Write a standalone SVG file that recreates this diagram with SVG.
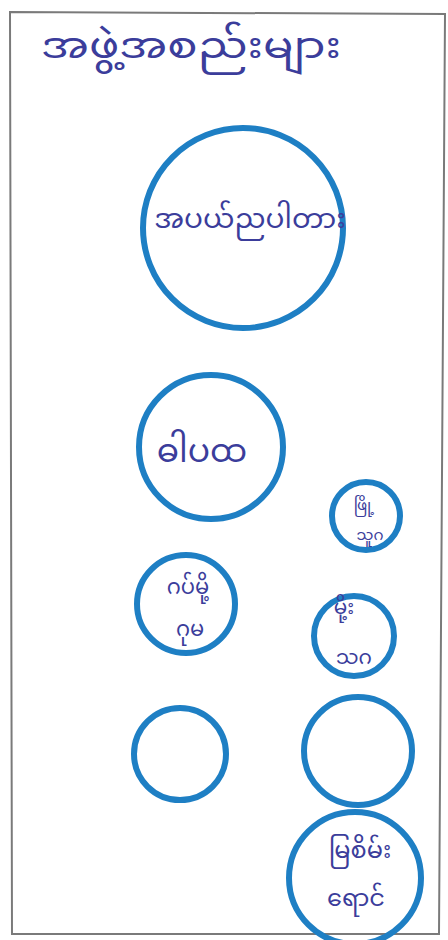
<svg xmlns="http://www.w3.org/2000/svg" width="448" height="940" viewBox="0 0 448 940">
<style>
.ring{fill:none;stroke:#1e7fc4;stroke-width:6}
.t{fill:#3b3d9b;font-family:"Noto Sans Myanmar","Noto Sans",sans-serif;text-anchor:middle}
</style>
<rect width="448" height="940" fill="#ffffff"/>
<path d="M10,12 L445,14 L439,934 L12,934 Z" fill="none" stroke="#7a7a7a" stroke-width="2"/>
<g id="title"><text class="t" x="191" y="58" font-size="36" textLength="300" lengthAdjust="spacingAndGlyphs">အဖွဲ့အစည်းများ</text></g>
<g id="n1"><circle class="ring" cx="243" cy="228" r="100"/><text class="t" x="250" y="228" font-size="28">အပယ်ညပါတား</text></g>
<g id="n2"><circle class="ring" cx="211" cy="447" r="72"/><text class="t" x="202" y="462" font-size="33">ဓါပထ</text></g>
<g id="n3"><circle class="ring" cx="366" cy="516" r="34"/><text class="t" x="364" y="510" font-size="15">ဖြို့</text><text class="t" x="370" y="540" font-size="15">သူဂ</text></g>
<g id="n4"><circle class="ring" cx="186" cy="604" r="49"/><text class="t" x="188" y="594" font-size="21">ဂပ်မို့</text><text class="t" x="190" y="636" font-size="21">ဂုမ</text></g>
<g id="n5"><circle class="ring" cx="354" cy="636" r="40"/><text class="t" x="344" y="614" font-size="20">မို့း</text><text class="t" x="354" y="664" font-size="20">သဂ</text></g>
<g id="n6"><circle class="ring" cx="180" cy="754" r="46"/></g>
<g id="n7"><circle class="ring" cx="358" cy="751" r="54"/></g>
<g id="n8"><circle class="ring" cx="355" cy="878" r="66"/><text class="t" x="360" y="858" font-size="24">မြစိမ်း</text><text class="t" x="356" y="906" font-size="24">ရောင်</text></g>
<g id="connectors"></g>
</svg>
